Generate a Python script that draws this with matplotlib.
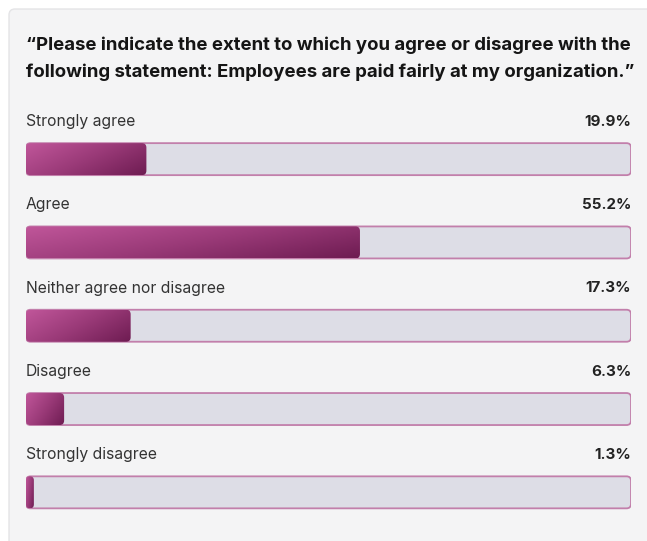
import matplotlib.pyplot as plt
import numpy as np
from matplotlib.patches import FancyBboxPatch
from matplotlib.colors import LinearSegmentedColormap

plt.rcParams['font.family'] = ['Inter', 'DejaVu Sans']

title = ('\u201cPlease indicate the extent to which you agree or disagree with the\n'
         'following statement: Employees are paid fairly at my organization.\u201d')
answers = ['Strongly agree', 'Agree', 'Neither agree nor disagree', 'Disagree', 'Strongly disagree']
shares = [19.9, 55.2, 17.3, 6.3, 1.3]

W, H = 647, 541
fig = plt.figure(figsize=(W / 100, H / 100), dpi=100)
fig.patch.set_facecolor('white')

# card background in pixel coordinates
bg = fig.add_axes([0, 0, 1, 1])
bg.set_xlim(0, W)
bg.set_ylim(H, 0)
bg.axis('off')
bg.add_patch(FancyBboxPatch((9, 9), W + 20, H + 20, boxstyle='round,pad=0,rounding_size=6',
                            facecolor='#f4f4f5', edgecolor='#e4e4e6', linewidth=1))
bg.text(26, 58.5, title, fontsize=13.4, fontweight='bold', color='#151515',
        va='center', ha='left', linespacing=1.72)

# bars axes: x in percent, one row per answer
x0, x1 = 26, 631
row_h = 83.3
top = 95
ax = fig.add_axes([x0 / W, 1 - (top + row_h * len(answers)) / H,
                   (x1 - x0) / W, row_h * len(answers) / H])
ax.set_xlim(0, 100)
ax.set_ylim(len(answers), 0)
ax.axis('off')

bar_h = 32 / row_h
bar_off = 0.77  # bar centre inside each row
px_x = (x1 - x0) / 100
px_y = row_h
rs = 4.5 / px_x
aspect = (1 / px_y) / (1 / px_x)

grad = LinearSegmentedColormap.from_list('plum', ['#c0569a', '#9a3a78', '#6e1c52'])
gx, gy = np.meshgrid(np.linspace(0, 1, 200), np.linspace(0, 1, 50))

for i, (name, val) in enumerate(zip(answers, shares)):
    yc = i + bar_off
    ax.text(0, i + 0.32, name, fontsize=11.3, color='#333333', va='center', ha='left')
    ax.text(100, i + 0.32, f'{val}%', fontsize=10.9, fontweight='bold', color='#222222',
            va='center', ha='right')
    track = FancyBboxPatch((0, yc - bar_h / 2), 100, bar_h,
                           boxstyle=f'round,pad=0,rounding_size={rs}', mutation_aspect=aspect,
                           facecolor='#dddde6', edgecolor='#c27fab', linewidth=1.3, zorder=1)
    ax.add_patch(track)
    fill = FancyBboxPatch((0, yc - bar_h / 2), val, bar_h,
                          boxstyle=f'round,pad=0,rounding_size={min(rs, val / 2)}',
                          mutation_aspect=aspect, facecolor='none', edgecolor='none', zorder=2)
    ax.add_patch(fill)
    # diagonal gradient from pink (top-left) to plum (bottom-right)
    g = 0.65 * gx + 0.35 * gy
    im = ax.imshow(g, cmap=grad, extent=(0, val, yc + bar_h / 2, yc - bar_h / 2),
                   aspect='auto', zorder=2, interpolation='bilinear')
    im.set_clip_path(fill)

fig.savefig('out.png', dpi=100, facecolor='white')
